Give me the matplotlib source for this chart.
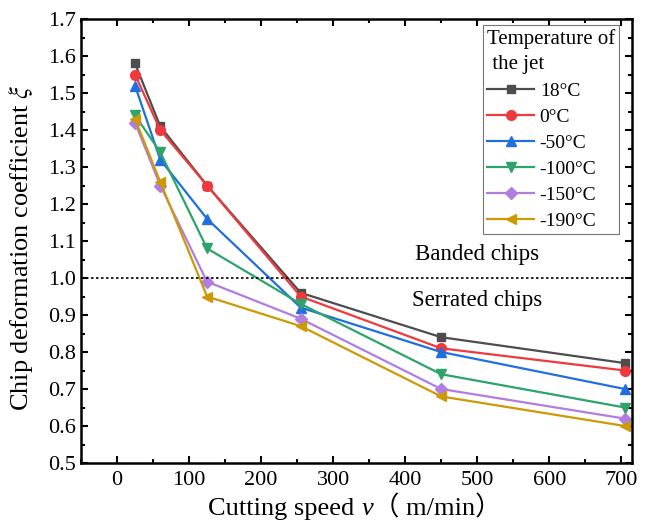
import matplotlib.pyplot as plt
from matplotlib.ticker import MultipleLocator
from matplotlib.offsetbox import TextArea, HPacker, AnchoredOffsetbox

plt.rcParams['font.family'] = ['Liberation Serif', 'DejaVu Serif']
plt.rcParams['mathtext.fontset'] = 'stix'

speed = [25, 60, 125, 255, 450, 705]
labels = ['18°C', '0°C', '-50°C', '-100°C', '-150°C', '-190°C']
xi_18 = [1.58, 1.41, 1.25, 0.96, 0.84, 0.77]
xi_0 = [1.55, 1.40, 1.25, 0.95, 0.81, 0.75]
xi_m50 = [1.52, 1.32, 1.16, 0.92, 0.80, 0.70]
xi_m100 = [1.44, 1.34, 1.08, 0.93, 0.74, 0.65]
xi_m150 = [1.42, 1.25, 0.99, 0.89, 0.70, 0.62]
xi_m190 = [1.43, 1.26, 0.95, 0.87, 0.68, 0.60]

series = [xi_18, xi_0, xi_m50, xi_m100, xi_m150, xi_m190]
colors = ['#4d4d4d', '#f0393c', '#1f6fe0', '#2ea36b', '#b07ee0', '#cc9a06']
markers = ['s', 'o', '^', 'v', 'D', '<']
sizes = [6, 7, 7, 7, 6, 7]

fig = plt.figure(figsize=(6.46, 5.24), dpi=100)
ax = fig.add_axes([0.1254, 0.1164, 0.853, 0.8473])

for y, lab, c, m, s in zip(series, labels, colors, markers, sizes):
    ax.plot(speed, y, color=c, marker=m, markersize=s, linewidth=1.6, label=lab)

# chip type boundary
ax.axhline(1.0, color='black', linestyle=(0, (1.5, 1.5)), linewidth=1.2)
ax.text(500, 1.063, 'Banded chips', fontsize=16.5, ha='center', va='center')
ax.text(500, 0.938, 'Serrated chips', fontsize=16.5, ha='center', va='center')

ax.set_xlim(-50, 715)
ax.set_ylim(0.5, 1.7)
ax.xaxis.set_major_locator(MultipleLocator(100))
ax.xaxis.set_minor_locator(MultipleLocator(50))
ax.yaxis.set_major_locator(MultipleLocator(0.1))
ax.yaxis.set_minor_locator(MultipleLocator(0.05))
ax.tick_params(which='both', direction='in', top=True, right=True, labelsize=16, width=1.5)
ax.tick_params(axis='x', pad=6)
ax.tick_params(which='major', length=5)
ax.tick_params(which='minor', length=3)
for sp in ax.spines.values():
    sp.set_linewidth(1.8)

ax.set_ylabel(r'Chip deformation coefficient $\xi$', fontsize=19)
ax.yaxis.set_label_coords(-0.084, 0.484)

# x label built from pieces so the italic v and fullwidth brackets both render
xl_size = 19
parts = [
    TextArea('Cutting speed ', textprops=dict(fontsize=xl_size)),
    TextArea('v', textprops=dict(fontsize=xl_size, style='italic')),
    TextArea('（ m/min）', textprops=dict(fontsize=xl_size,
                                         family=['Liberation Serif', 'Noto Sans CJK SC'])),
]
xlab = HPacker(children=parts, align='baseline', pad=0, sep=0)
ax.add_artist(AnchoredOffsetbox(loc='upper center', child=xlab, pad=0, borderpad=0,
                                frameon=False, bbox_to_anchor=(0.497, -0.072),
                                bbox_transform=ax.transAxes))

leg = ax.legend(title='Temperature of\n the jet', loc='upper right', fontsize=14,
                title_fontsize=15, frameon=True, fancybox=False, edgecolor='#555555',
                handlelength=2.4, handletextpad=0.3, borderaxespad=0, labelspacing=0.43,
                borderpad=0.2, bbox_to_anchor=(0.977, 0.986))
leg._legend_box.align = 'left'
leg.get_title().set_linespacing(1.45)
leg.get_frame().set_linewidth(0.8)

fig.savefig('out.png', dpi=100)
